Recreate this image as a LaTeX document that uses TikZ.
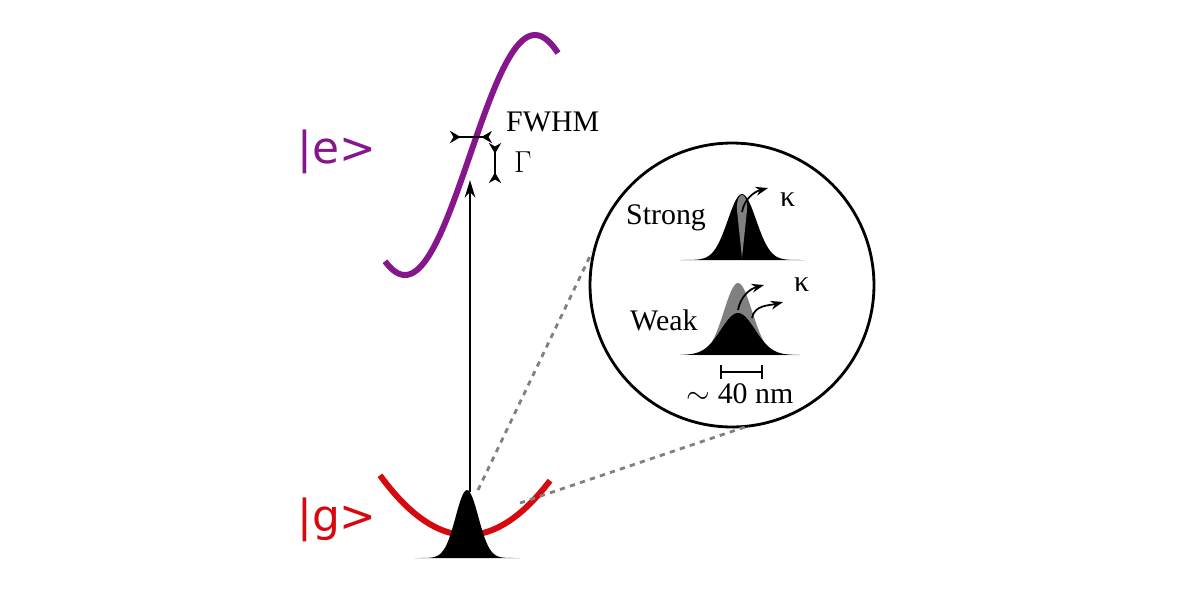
\documentclass[tikz,border=0pt]{standalone}
\usepackage{fontspec}
\setmainfont{Liberation Serif}
\newfontfamily\ketfont{DejaVu Sans}
\usetikzlibrary{arrows.meta,positioning,calc}
\definecolor{levelpurple}{RGB}{134,22,140}
\definecolor{levelred}{RGB}{214,10,14}
\begin{document}
\begin{tikzpicture}[x=0.02cm,y=-0.02cm,
    level/.style={line width=3.4pt},
    ket/.style={font=\ketfont\fontsize{25}{25}\selectfont},
    lbl/.style={font=\fontsize{17}{17}\selectfont},
    tip/.style={-{Stealth[length=7pt,width=5pt]},line width=1pt},
    zoomline/.style={gray,dashed,line width=1.6pt}]
    \useasboundingbox (0,0) rectangle (1200,600);
    % energy levels
    \draw[level,levelred] plot[domain=380:550,samples=60] (\x,{535-57*((\x-467)/85)^2});
    \draw[level,levelpurple] plot[domain=385:558,samples=80] (\x,{155-120*sin(180*(\x-470)/130)});
    \node[ket,levelpurple] (e) at (337,152) {|e>};
    \node[ket,levelred] (g) at (337,520) {|g>};
    % ground state wavepacket
    \fill plot[domain=415:520,samples=60] (\x,{558-68*exp(-((\x-467)/16)^2)}) -- cycle;
    \coordinate (gtop) at (470,492);
    \coordinate (etop) at (470,180);
    \draw[-{Stealth[length=10pt,width=6pt]},line width=1.3pt] (gtop) -- (etop);
    % FWHM and Gamma
    \coordinate (fl) at (450,137);
    \coordinate (fr) at (492,137);
    \draw[line width=0.9pt,{Stealth[length=6pt,width=7pt,reversed]}-{Stealth[length=6pt,width=7pt,reversed]}] (fl) -- (fr);
    \coordinate (gu) at (495,143);
    \coordinate (gd) at (495,183);
    \draw[line width=0.9pt,{Stealth[length=6pt,width=7pt,reversed]}-{Stealth[length=6pt,width=7pt,reversed]}] (gu) -- (gd);
    \node[lbl,anchor=west] (fwhm) at (500,122) {FWHM};
    \node[lbl,anchor=west] (gam) at (508,162) {$\Gamma$};
    % zoom circle
    \node[draw,circle,line width=1.6pt,minimum size=5.68cm] (zoom) at (732,285) {};
    \coordinate (z1) at (478,490);
    \coordinate (z2) at (520,503);
    \draw[zoomline] (z1) -- (592,252);
    \draw[zoomline] (z2) -- (745,427);
    % strong coupling
    \node[lbl,anchor=west] (strong) at (620,218) {Strong};
    \fill plot[domain=680:805,samples=70] (\x,{260-66*exp(-((\x-742)/20)^2)}) -- cycle;
    \fill[gray] (742,258) -- (737,210) .. controls (736,190) and (748,190) .. (747,210) -- cycle;
    \coordinate (s1) at (742,212);
    \coordinate (s2) at (768,188);
    \draw[tip] (s1) to[out=80,in=195] (s2);
    \node[lbl,anchor=west] (ks) at (774,200) {κ};
    % weak coupling
    \node[lbl,anchor=west] (weak) at (624,320) {Weak};
    \fill[gray] plot[domain=680:800,samples=60] (\x,{355-72*exp(-((\x-738)/20)^2)}) -- cycle;
    \fill plot[domain=680:800,samples=60] (\x,{355-42*exp(-((\x-738)/24)^2)}) -- cycle;
    \coordinate (w1) at (738,310);
    \coordinate (w2) at (764,285);
    \coordinate (w3) at (752,318);
    \coordinate (w4) at (783,302);
    \draw[tip] (w1) to[out=80,in=195] (w2);
    \draw[tip] (w3) to[out=80,in=195] (w4);
    \node[lbl,anchor=west] (kw) at (788,285) {κ};
    % scale bar
    \coordinate (b1) at (720,372);
    \coordinate (b2) at (763,372);
    \draw[line width=1.4pt,{Bar[width=8pt]}-{Bar[width=8pt]}] (b1) -- (b2);
    \node[lbl] (nm) at (740,394) {$\sim$ 40 nm};
\end{tikzpicture}
\end{document}
